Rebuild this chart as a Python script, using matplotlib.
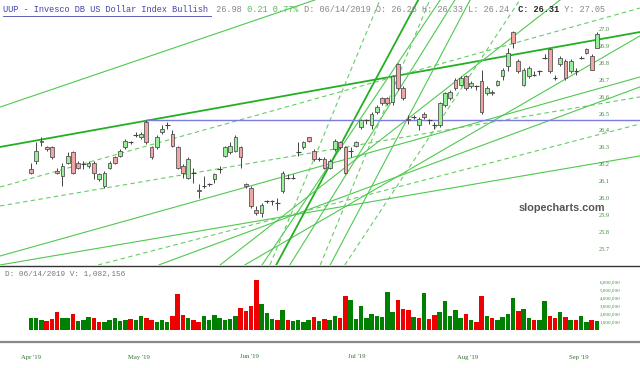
import matplotlib
matplotlib.use('Agg')
import matplotlib.pyplot as plt
import numpy as np
import pandas as pd

# daily candles, UUP, 2019-04-01 .. 2019-09-06
opens = [26.17, 26.22, 26.33, 26.30, 26.30, 26.16, 26.13, 26.21, 26.27, 26.21,
         26.20, 26.19, 26.21, 26.11, 26.07, 26.18, 26.24, 26.25, 26.30, 26.33,
         26.37, 26.36, 26.45, 26.30, 26.30, 26.39, 26.43, 26.38, 26.30, 26.19,
         26.12, 26.15, 26.05, 26.07, 26.08, 26.11, 26.17, 26.25, 26.27, 26.28,
         26.30, 26.08, 26.06, 25.93, 25.91, 25.98, 25.98, 25.97, 26.04, 26.12,
         26.12, 26.27, 26.30, 26.36, 26.28, 26.23, 26.23, 26.18, 26.29, 26.33,
         26.30, 26.28, 26.31, 26.42, 26.46, 26.43, 26.51, 26.59, 26.59, 26.57,
         26.79, 26.65, 26.47, 26.48, 26.43, 26.50, 26.46, 26.43, 26.43, 26.55,
         26.59, 26.70, 26.67, 26.72, 26.66, 26.66, 26.69, 26.62, 26.62, 26.67,
         26.72, 26.78, 26.98, 26.81, 26.67, 26.72, 26.73, 26.75, 26.83, 26.88,
         26.71, 26.79, 26.81, 26.75, 26.75, 26.83, 26.88, 26.84, 26.89]
highs = [26.21, 26.33, 26.36, 26.31, 26.31, 26.18, 26.21, 26.27, 26.28, 26.22,
         26.22, 26.22, 26.22, 26.15, 26.16, 26.22, 26.25, 26.29, 26.35, 26.34,
         26.39, 26.39, 26.46, 26.31, 26.37, 26.43, 26.45, 26.40, 26.31, 26.20,
         26.24, 26.18, 26.08, 26.13, 26.09, 26.15, 26.19, 26.31, 26.33, 26.37,
         26.31, 26.09, 26.07, 25.95, 25.97, 25.99, 25.99, 26.00, 26.16, 26.14,
         26.14, 26.33, 26.34, 26.36, 26.29, 26.24, 26.24, 26.23, 26.35, 26.34,
         26.31, 26.30, 26.34, 26.47, 26.47, 26.51, 26.55, 26.60, 26.60, 26.73,
         26.80, 26.66, 26.49, 26.49, 26.48, 26.51, 26.47, 26.45, 26.57, 26.63,
         26.64, 26.71, 26.72, 26.73, 26.69, 26.67, 26.76, 26.66, 26.64, 26.70,
         26.77, 26.89, 26.99, 26.82, 26.77, 26.78, 26.75, 26.76, 26.85, 26.89,
         26.73, 26.84, 26.82, 26.82, 26.77, 26.84, 26.89, 26.85, 26.98]
lows = [26.14, 26.20, 26.31, 26.28, 26.23, 26.14, 26.07, 26.20, 26.14, 26.17,
        26.17, 26.18, 26.11, 26.10, 26.06, 26.17, 26.20, 26.24, 26.29, 26.32,
        26.36, 26.35, 26.32, 26.23, 26.29, 26.38, 26.41, 26.30, 26.17, 26.12,
        26.11, 26.09, 26.00, 26.06, 26.07, 26.09, 26.15, 26.24, 26.26, 26.27,
        26.18, 26.06, 25.94, 25.90, 25.89, 25.97, 25.96, 25.93, 26.03, 26.11,
        26.11, 26.25, 26.29, 26.33, 26.22, 26.22, 26.17, 26.17, 26.28, 26.29,
        26.14, 26.24, 26.30, 26.41, 26.44, 26.41, 26.50, 26.55, 26.55, 26.55,
        26.64, 26.58, 26.44, 26.47, 26.40, 26.47, 26.44, 26.41, 26.42, 26.54,
        26.58, 26.64, 26.66, 26.64, 26.65, 26.64, 26.50, 26.61, 26.61, 26.66,
        26.70, 26.75, 26.89, 26.74, 26.66, 26.71, 26.72, 26.73, 26.82, 26.74,
        26.70, 26.78, 26.70, 26.74, 26.73, 26.82, 26.85, 26.76, 26.89]
closes = [26.15, 26.28, 26.34, 26.29, 26.24, 26.15, 26.19, 26.25, 26.15, 26.18,
          26.20, 26.21, 26.15, 26.14, 26.15, 26.21, 26.21, 26.28, 26.34, 26.33,
          26.37, 26.38, 26.33, 26.24, 26.36, 26.41, 26.43, 26.31, 26.18, 26.15,
          26.23, 26.15, 26.04, 26.07, 26.08, 26.14, 26.17, 26.30, 26.31, 26.36,
          26.24, 26.07, 25.95, 25.91, 25.96, 25.98, 25.98, 25.97, 26.15, 26.12,
          26.12, 26.27, 26.33, 26.34, 26.23, 26.23, 26.18, 26.22, 26.34, 26.30,
          26.15, 26.28, 26.33, 26.46, 26.46, 26.50, 26.54, 26.56, 26.56, 26.72,
          26.65, 26.59, 26.46, 26.48, 26.47, 26.48, 26.46, 26.43, 26.56, 26.62,
          26.63, 26.65, 26.71, 26.65, 26.68, 26.66, 26.51, 26.65, 26.63, 26.69,
          26.76, 26.86, 26.92, 26.75, 26.76, 26.77, 26.73, 26.75, 26.83, 26.75,
          26.71, 26.83, 26.71, 26.81, 26.75, 26.83, 26.86, 26.76, 26.97]
# volume in millions of shares
volumes = [1.5, 1.5, 1.2, 1.1, 1.4, 2.3, 1.5, 1.5, 2.0, 1.1, 1.2,
           1.6, 1.5, 1.0, 1.0, 1.3, 1.5, 1.1, 1.3, 1.4, 1.2, 1.8,
           1.5, 1.3, 1.0, 1.2, 1.0, 1.8, 4.5, 1.9, 1.5, 1.3, 1.0,
           1.8, 1.3, 1.9, 1.5, 1.3, 1.4, 1.8, 2.7, 2.4, 3.0, 6.2,
           3.3, 2.1, 1.4, 1.2, 2.5, 1.3, 1.1, 1.3, 1.0, 1.2, 1.6,
           1.1, 1.4, 1.2, 1.7, 1.5, 4.2, 3.7, 1.4, 3.0, 1.5, 2.0,
           1.8, 1.6, 4.8, 2.2, 3.7, 2.6, 2.5, 1.6, 1.5, 4.6, 1.4,
           1.9, 2.3, 3.6, 1.8, 2.5, 1.5, 2.0, 1.2, 1.0, 4.2, 1.8,
           1.5, 1.2, 1.6, 2.0, 4.0, 2.4, 2.6, 1.5, 1.3, 1.2, 3.6,
           1.8, 1.5, 2.2, 1.6, 1.3, 1.2, 1.8, 1.0, 1.3, 1.1]

first_day, last_day = '2019-04-01', '2019-09-06'
month_starts = ['2019-04-01', '2019-05-01', '2019-06-01', '2019-07-01', '2019-08-01', '2019-09-01']
months = ["Apr '19", "May '19", "Jun '19", "Jul '19", "Aug '19", "Sep '19"]

# drawn trendlines: (start bar, start price, end bar, end price, style)
trend_lines = [
    (-5.9, 26.302, 116.2, 26.982, 'thick'),
    (-5.9, 26.538, 54.2, 27.172, 'solid'),
    (-5.9, 26.065, 116.2, 27.124, 'dash'),
    (-5.9, 25.953, 116.2, 26.598, 'dash'),
    (-5.9, 25.657, 116.2, 26.716, 'solid'),
    (-5.9, 25.604, 116.2, 26.249, 'solid'),
    (40.8, 25.604, 116.2, 26.959, 'solid'),
    (24.4, 25.604, 116.2, 26.657, 'solid'),
    (12.8, 25.604, 116.2, 26.438, 'dash'),
    (44.1, 25.604, 78.1, 27.172, 'solid'),
    (49.4, 25.604, 80.9, 27.172, 'solid'),
    (46.8, 25.604, 73.9, 27.172, 'thick'),
    (57.1, 25.604, 83.8, 27.172, 'solid'),
    (45.6, 25.604, 66.6, 27.172, 'dash'),
    (55.2, 25.604, 76.1, 27.172, 'dash'),
    (59.9, 25.604, 93.3, 27.172, 'dash'),
    (36.1, 25.604, 101.0, 27.172, 'solid'),
]
support_level = 26.46

n = len(closes)
idx = np.arange(n)

fig = plt.figure(figsize=(6.4, 3.68), dpi=100)
ax = fig.add_axes([0, 1 - 265 / 368, 1, 265 / 368])
axv = fig.add_axes([0, 1 - 342 / 368, 1, 76 / 368])

x_lo, x_hi = -31 / 5.24, (640 - 31) / 5.24
for a in (ax, axv):
    a.set_xlim(x_lo, x_hi)

# trendlines
styles = {'thick': dict(color='#22b022', lw=1.3, ls='-'),
          'solid': dict(color='#4fc94f', lw=0.8, ls='-'),
          'dash': dict(color='#66cc66', lw=0.8, ls=(0, (4, 3)))}
for x0, p0, x1, p1, st in trend_lines:
    ax.plot([x0, x1], [p0, p1], zorder=1, **styles[st])
ax.plot([22, x_hi], [support_level, support_level], color='#7b7be0', lw=1, zorder=1)

# candles
for i in idx:
    o, h, l, c = opens[i], highs[i], lows[i], closes[i]
    ax.vlines(i, l, h, color='#444444', lw=0.7, zorder=2)
    if abs(c - o) < 0.006:
        ax.hlines(o, i - 0.45, i + 0.45, color='#444444', lw=0.8, zorder=3)
    else:
        fill = '#99ee99' if c > o else '#f2a5a5'
        ax.bar(i, c - o, bottom=o, width=0.7, color=fill, edgecolor='#555555',
               lw=0.6, zorder=3)

ax.set_ylim(25.6036, 27.1716)
ticks = np.arange(25.7, 27.05, 0.1)
ax.set_yticks(ticks)
ax.set_yticklabels(['%.1f' % v for v in ticks])
ax.yaxis.tick_right()
ax.tick_params(axis='y', direction='in', length=0, pad=-30, labelsize=4.5,
               labelcolor='#3a8a3a')
ax.set_xticks([])
for s in ax.spines.values():
    s.set_visible(False)
for lab in ax.get_yticklabels():
    lab.set_fontfamily('Liberation Serif')

ax.text(0.878, 0.215, 'slopecharts.com', transform=ax.transAxes, ha='center',
        va='center', fontsize=7.8, fontweight='bold', color='#555555',
        family='Liberation Sans', zorder=5)

# volume, coloured by change from previous close
vol_cols = ['#008000' if i == 0 or closes[i] >= closes[i - 1] else '#ee0000' for i in idx]
axv.bar(idx, volumes, width=0.85, color=vol_cols, zorder=2)
axv.set_ylim(-1.5, 8.0)
axv.set_yticks(np.arange(1, 7))
axv.set_yticklabels(['%d,000,000' % v for v in range(1, 7)])
axv.yaxis.tick_right()
axv.tick_params(axis='y', direction='in', length=0, pad=-29, labelsize=3.6,
                labelcolor='#3a8a3a')
for lab in axv.get_yticklabels():
    lab.set_fontfamily('Liberation Serif')

# month labels sit on a calendar scale spanning the first to last bar
t0, t1 = pd.Timestamp(first_day), pd.Timestamp(last_day)
month_pos = [(pd.Timestamp(m) - t0) / (t1 - t0) * (n - 1) for m in month_starts]
axv.set_xticks(month_pos)
axv.set_xticklabels(months, fontsize=4.8, color='#2f6f2f', family='Liberation Serif')
axv.tick_params(axis='x', length=0, pad=9)
axv.spines['left'].set_visible(False)
axv.spines['right'].set_visible(False)
axv.spines['top'].set_color('#333333')
axv.spines['top'].set_linewidth(1.0)
axv.spines['bottom'].set_color('#888888')
axv.spines['bottom'].set_linewidth(1.6)

axv.text(0.008, 0.93, 'D: 06/14/2019 V: 1,082,156', transform=axv.transAxes,
         fontsize=5.6, color='#777777', family='Liberation Mono', va='top')

# header
cw = 5.2 / 640
parts = [("UUP - Invesco DB US Dollar Index Bullish", '#4444aa', 'normal'),
         (" 26.98", '#888888', 'normal'),
         (" 0.21 0.77%", '#55bb55', 'normal'),
         (" D: 06/14/2019 O: 26.26 H: 26.33 L: 26.24", '#888888', 'normal'),
         (" C: 26.31", '#222222', 'bold'),
         (" Y: 27.05", '#888888', 'normal')]
pos = 0
for txt, col, wt in parts:
    fig.text(3 / 640 + pos * cw, 1 - 10 / 368, txt, fontsize=6.2, color=col,
             fontweight=wt, family='Liberation Mono', va='center')
    pos += len(txt)
fig.add_artist(plt.Line2D([3 / 640, (3 + 40 * 5.2) / 640], [1 - 16 / 368, 1 - 16 / 368],
                          color='#4444aa', lw=0.6))

fig.savefig('out.png', dpi=100)
